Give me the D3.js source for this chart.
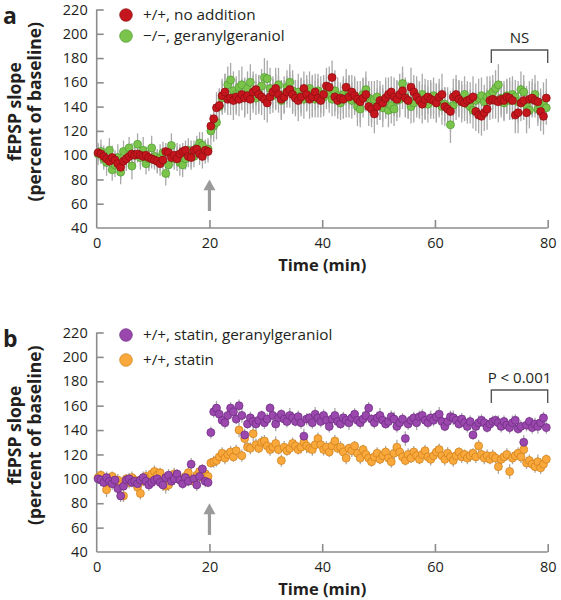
<!DOCTYPE html>
<html>
<head>
<meta charset="utf-8">
<script src="https://cdn.jsdelivr.net/npm/d3@7"></script>
<style>
  html, body { margin: 0; padding: 0; background: #fff; }
  svg { display: block; }
  text { font-family: "Open Sans", "Noto Sans", sans-serif; fill: #231f20; }
</style>
</head>
<body>
<svg id="chart" width="561" height="600"></svg>
<script>
// ---------- DATA ----------
const xTicks = [0, 20, 40, 60, 80];
const yTicks = [40, 60, 80, 100, 120, 140, 160, 180, 200, 220];
// sample times (min), one every 30 s
const times = d3.range(160).map(i => 0.25 + 0.5 * i);

const labelA1 = "+/+, no addition";
const labelA2 = "\u2212/\u2212, geranylgeraniol";
const labelB1 = "+/+, statin, geranylgeraniol";
const labelB2 = "+/+, statin";

const redVals = [
  102,101,99,97,95,98,96,93,90,95,
  97,99,101,100,101,100,99,100,98,97,
  96,95,93,96,103,102,98,100,97,101,
  103,104,99,98,104,105,101,99,104,103,
  124,130,139,141,149,152,146,147,145,148,
  146,150,147,149,146,152,154,150,148,146,
  143,148,152,155,150,146,148,152,154,150,
  147,145,148,155,150,146,148,152,147,145,
  150,157,156,164,148,145,147,146,156,148,
  152,149,146,144,147,150,140,138,134,140,
  145,143,147,150,152,148,146,150,153,147,
  145,156,152,148,145,142,146,148,146,145,
  143,148,150,140,138,136,148,150,146,144,
  143,145,146,148,136,133,132,135,138,145,
  146,145,144,146,145,148,147,145,133,135,
  143,145,135,146,147,145,144,136,132,147
];
const redErr = [
  7,8,9,7,8,10,8,9,10,8,
  7,8,9,8,7,9,8,7,9,8,
  8,9,10,8,7,9,8,9,10,8,
  7,8,9,10,8,7,9,10,8,9,
  10,12,13,14,14,15,13,14,16,15,
  14,13,16,15,17,14,13,16,15,17,
  16,14,13,17,15,16,14,13,15,16,
  15,17,16,14,13,16,17,15,16,14,
  16,15,17,14,16,15,13,16,15,17,
  14,16,15,17,16,14,16,15,16,15,
  16,15,17,14,13,16,15,17,15,16,
  15,16,14,17,15,16,17,14,16,15,
  16,15,17,16,14,17,15,16,15,17,
  15,16,14,17,16,15,16,15,17,16,
  16,15,17,15,16,14,17,16,15,17,
  15,16,17,15,16,14,17,16,15,16
];
const greenVals = [
  101,103,97,94,104,88,92,98,86,103,
  97,106,91,100,109,98,104,93,97,106,
  99,95,98,102,85,92,108,97,100,94,
  92,97,104,101,99,106,110,108,103,105,
  120,124,127,140,147,151,158,162,153,150,
  156,158,148,155,160,152,147,151,157,164,
  163,155,149,152,158,145,150,156,160,153,
  148,152,149,146,151,155,149,146,153,150,
  148,152,150,146,153,149,143,150,147,152,
  145,149,140,138,150,154,147,144,146,148,
  143,139,146,137,141,138,145,146,159,148,
  145,140,143,148,146,150,144,142,146,149,
  143,145,140,142,140,125,141,146,147,144,
  150,142,140,137,145,147,149,144,148,150,
  152,155,158,147,143,149,145,150,148,144,
  154,152,141,137,146,150,138,140,143,139
];
const greenErr = [
  9,10,9,11,10,9,10,11,10,9,
  10,9,11,10,9,10,11,9,10,10,
  9,10,11,9,10,11,10,9,10,11,
  10,9,10,11,9,10,9,11,10,9,
  12,13,14,15,14,16,15,14,16,15,
  14,15,16,14,15,17,14,15,14,16,
  15,17,14,15,14,16,15,14,15,17,
  14,15,14,16,15,14,17,15,14,15,
  16,14,15,14,17,15,14,15,16,14,
  15,14,16,15,14,15,14,17,15,14,
  14,16,15,14,15,14,17,15,14,16,
  15,14,16,14,15,17,14,15,14,15,
  16,14,15,14,16,15,14,17,15,14,
  15,16,14,15,14,16,15,14,17,15,
  14,15,17,14,15,14,16,15,14,17,
  15,14,16,15,14,16,14,15,17,14
];
const purpleVals = [
  100,99,97,101,98,96,99,92,86,94,
  99,100,97,98,96,99,101,98,95,97,
  99,100,97,95,101,103,98,100,104,99,
  96,101,98,112,100,95,102,108,98,97,
  138,155,158,153,148,146,152,158,155,149,
  160,152,136,145,150,147,145,148,152,146,
  149,158,152,145,150,153,149,147,152,150,
  147,151,146,135,149,150,146,153,150,147,
  152,148,143,149,152,147,145,150,148,146,
  150,153,148,146,149,152,158,149,146,150,
  152,148,145,147,151,149,143,146,149,133,
  145,148,150,146,151,152,148,146,150,148,
  151,153,147,143,147,151,150,148,145,149,
  146,143,147,136,143,146,148,146,142,145,
  147,148,146,143,147,144,142,146,148,141,
  143,130,144,147,142,145,143,146,150,142
];
const purpleErr = [
  4,5,4,5,4,5,4,5,5,4,
  4,5,4,4,5,4,5,4,5,4,
  5,4,4,5,4,5,4,5,4,5,
  4,5,4,5,4,5,5,4,5,4,
  5,5,6,5,4,5,6,5,5,4,
  5,6,5,4,5,5,6,5,4,5,
  5,4,5,6,5,4,5,5,6,5,
  4,5,5,6,5,4,5,6,5,5,
  5,4,5,5,6,5,4,5,5,6,
  5,5,4,5,6,5,5,4,5,5,
  6,5,4,5,5,6,5,4,5,6,
  5,4,5,6,5,5,4,5,6,5,
  5,6,5,4,5,5,6,5,4,5,
  6,5,5,4,5,6,5,5,4,5,
  5,4,6,5,5,4,5,6,5,4,
  5,6,5,4,5,5,6,4,5,5
];
const orangeVals = [
  101,103,98,91,97,102,96,99,95,86,
  100,97,101,99,93,88,98,102,100,104,
  106,103,105,98,94,95,99,104,102,100,
  97,102,105,100,98,103,106,101,104,102,
  113,114,115,118,121,117,120,122,118,123,
  140,119,133,126,125,137,128,125,130,131,
  127,124,126,129,124,115,126,123,125,129,
  127,124,126,130,127,125,124,128,133,128,
  124,126,122,127,131,125,126,122,117,125,
  123,127,121,117,124,120,117,114,118,121,
  116,119,122,117,114,121,126,122,118,115,
  120,117,122,119,116,120,123,118,116,119,
  122,124,119,116,121,118,115,119,122,118,
  120,117,119,121,118,127,120,117,119,116,
  119,117,110,116,118,120,106,117,119,121,
  118,124,113,115,112,110,114,109,112,116
];
const orangeErr = [
  5,4,5,6,5,4,5,5,6,5,
  4,5,5,4,6,5,4,5,5,4,
  5,5,4,5,6,5,4,5,5,4,
  5,4,5,5,4,5,5,4,5,5,
  4,5,5,4,5,5,4,5,4,5,
  6,5,5,4,5,6,5,4,5,5,
  4,5,5,6,4,5,5,4,5,5,
  5,4,5,5,6,4,5,5,5,4,
  5,5,4,5,5,4,5,6,5,4,
  5,4,5,5,4,5,5,4,5,5,
  4,5,5,4,5,5,6,4,5,4,
  5,4,5,5,4,5,5,4,5,5,
  5,5,4,5,5,4,5,5,4,5,
  4,5,5,4,5,5,4,5,5,4,
  5,4,6,5,4,5,6,5,4,5,
  5,4,5,5,4,5,6,5,5,4
];

// ---------- DRAW ----------
const svg = d3.select("#chart");
const axisColor = "#8c8c8c";
const errColor = "#a9a9a9";

function drawPanel(cfg) {
  const x = d3.scaleLinear().domain([0, 80]).range([96.7, 547.7]);
  const y = d3.scaleLinear().domain([40, 220]).range([cfg.bottom, cfg.top]);
  const g = svg.append("g");

  // axes
  const yAxis = d3.axisLeft(y).tickValues(yTicks).tickSize(-7).tickPadding(9);
  const gy = g.append("g").attr("transform", `translate(${x(0)},0)`).call(yAxis);
  const xAxis = d3.axisBottom(x).tickValues(xTicks).tickSize(-8).tickPadding(6);
  const gx = g.append("g").attr("transform", `translate(0,${y(40)})`).call(xAxis);
  [gx, gy].forEach(a => {
    a.select(".domain").attr("stroke", axisColor).attr("stroke-width", 1.6)
      .attr("d", a === gx ? `M${x(0)},0H${x(80)}` : `M0,${y(220)}V${y(40)}`);
    a.selectAll(".tick line").attr("stroke", axisColor).attr("stroke-width", 1.6);
    a.selectAll(".tick text").style("font-size", "14.5px").attr("fill", "#231f20");
  });
  gx.selectAll(".tick line").filter(d => d === 0).remove();
  gy.selectAll(".tick line").filter(d => d === 40).remove();
  gx.selectAll(".tick text").attr("dy", "0.95em");

  // axis titles
  g.append("text").attr("x", x(40)).attr("y", y(40) + 43)
    .attr("text-anchor", "middle").style("font-size", "16.5px").style("font-weight", "700")
    .text("Time (min)");
  const ty = (cfg.top + cfg.bottom) / 2 - 7;
  g.append("text").attr("transform", `translate(21,${ty}) rotate(-90)`)
    .attr("text-anchor", "middle").style("font-size", "17.5px").style("font-weight", "700")
    .text("fEPSP slope");
  g.append("text").attr("transform", `translate(41,${ty}) rotate(-90)`)
    .attr("text-anchor", "middle").style("font-size", "17.5px").style("font-weight", "700")
    .text("(percent of baseline)");

  // panel letter
  g.append("text").attr("x", 3).attr("y", cfg.top + 14)
    .style("font-size", "23px").style("font-weight", "700").text(cfg.letter);

  // arrow
  const ax = x(20);
  g.append("line").attr("x1", ax).attr("x2", ax).attr("y1", y(54)).attr("y2", y(74))
    .attr("stroke", "#9a9a9a").attr("stroke-width", 3.2);
  g.append("path")
    .attr("d", `M${ax},${y(80)}L${ax + 6},${y(71)}L${ax - 6},${y(71)}Z`)
    .attr("fill", "#9a9a9a");

  // error bars then points
  cfg.series.forEach(s => {
    g.append("g").selectAll("line").data(times).join("line")
      .attr("x1", (t) => x(t)).attr("x2", (t) => x(t))
      .attr("y1", (t, i) => y(s.vals[i] - s.err[i]))
      .attr("y2", (t, i) => y(s.vals[i] + s.err[i]))
      .attr("stroke", errColor).attr("stroke-width", 1.3);
  });
  cfg.series.forEach(s => {
    g.append("g").selectAll("circle").data(times).join("circle")
      .attr("cx", (t) => x(t)).attr("cy", (t, i) => y(s.vals[i]))
      .attr("r", 4).attr("fill", s.fill).attr("stroke", s.stroke).attr("stroke-width", 0.7);
  });

  // significance bracket
  const b = cfg.bracket;
  g.append("path")
    .attr("d", `M${x(70)},${b.legY}V${b.topY}H${x(80)}V${b.legY}`)
    .attr("fill", "none").attr("stroke", "#555").attr("stroke-width", 1.4);
  g.append("text").attr("x", x(75)).attr("y", b.topY - 7).attr("text-anchor", "middle")
    .style("font-size", "15px").text(b.label);

  // legend
  cfg.legend.forEach((l, i) => {
    g.append("circle").attr("cx", 126).attr("cy", l.y).attr("r", 6.3)
      .attr("fill", l.fill).attr("stroke", l.stroke).attr("stroke-width", 0.7);
    g.append("text").attr("x", 143).attr("y", l.y + 5)
      .style("font-size", "15.3px").text(l.label);
  });
}

const red = { fill: "#c4161c", stroke: "#8a0f12" };
const green = { fill: "#7ac44c", stroke: "#4f9a31" };
const purple = { fill: "#9a48ad", stroke: "#6c2a80" };
const orange = { fill: "#f9a93b", stroke: "#cf7d18" };

drawPanel({
  letter: "a", top: 9.5, bottom: 228,
  series: [
    { vals: greenVals, err: greenErr, ...green },
    { vals: redVals, err: redErr, ...red }
  ],
  legend: [
    { y: 15, label: labelA1, ...red },
    { y: 36, label: labelA2, ...green }
  ],
  bracket: { label: "NS", topY: 50, legY: 63 }
});

drawPanel({
  letter: "b", top: 332.5, bottom: 552,
  series: [
    { vals: orangeVals, err: orangeErr, ...orange },
    { vals: purpleVals, err: purpleErr, ...purple }
  ],
  legend: [
    { y: 335, label: labelB1, ...purple },
    { y: 360, label: labelB2, ...orange }
  ],
  bracket: { label: "P < 0.001", topY: 390, legY: 403 }
});
</script>
</body>
</html>
